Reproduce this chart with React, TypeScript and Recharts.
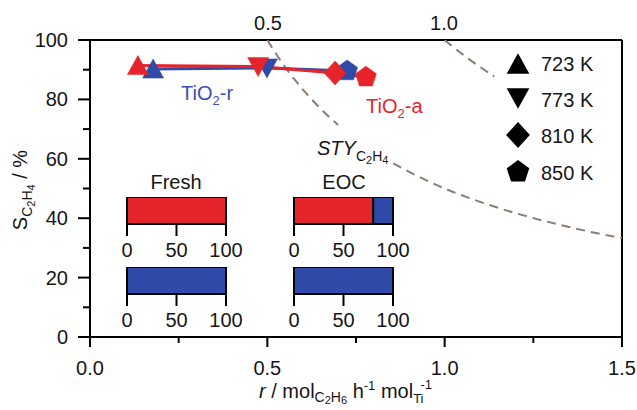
import React from "react";
import {
  ComposedChart,
  Line,
  Scatter,
  XAxis,
  YAxis,
  ReferenceLine,
  BarChart,
  Bar,
} from "recharts";

const FONT = "'Liberation Sans', Arial, Helvetica, sans-serif";
const INK = "#161616";
const RED = "#e5252b";
const BLUE = "#2f4aa8";
const BLUE_TEXT = "#3c4db5";
const DASH = "#8a7d77";

// Axis ticks
const xTicks = [0, 0.25, 0.5, 0.75, 1.0, 1.25, 1.5];
const yTicks = [0, 10, 20, 30, 40, 50, 60, 70, 80, 90, 100];

// Reaction temperatures (marker shape key) and legend text
const temperatures = [723, 773, 810, 850];
const temperatureLabels = ["723 K", "773 K", "810 K", "850 K"];

// TiO2-a: rate r vs. C2H4 selectivity
const anataseR = [0.135, 0.474, 0.691, 0.778];
const anataseS = [91.4, 91.1, 88.9, 87.5];
const anataseT = [723, 773, 810, 850];

// TiO2-r: rate r vs. C2H4 selectivity
const rutileR = [0.178, 0.499, 0.725];
const rutileS = [90.2, 90.6, 89.6];
const rutileT = [723, 773, 850];

// STY(C2H4) iso-lines, S = 100 * STY / r
const sty05R1 = [0.5, 0.52, 0.55, 0.58, 0.61, 0.64, 0.67, 0.7];
const sty05S1 = [100, 96.2, 90.9, 86.2, 82.0, 78.1, 74.6, 71.4];
const sty05R2 = [0.855, 0.9, 1.0, 1.1, 1.2, 1.3, 1.4, 1.5];
const sty05S2 = [58.5, 55.6, 50.0, 45.5, 41.7, 38.5, 35.7, 33.3];
const sty10R = [1.0, 1.03, 1.06, 1.1, 1.14];
const sty10S = [100, 97.1, 94.3, 90.9, 87.7];

// Phase composition (% anatase / % rutile), fresh and end of cycle
const phaseStates = ["Fresh", "EOC"];
const catAAnatase = [100, 80];
const catARutile = [0, 20];
const catRAnatase = [0, 0];
const catRRutile = [100, 100];

const toPts = (r: number[], s: number[], t?: number[]) =>
  r.map((v, i) => ({ r: v, s: s[i], t: t ? t[i] : 0 }));

const anatase = toPts(anataseR, anataseS, anataseT);
const rutile = toPts(rutileR, rutileS, rutileT);
const sty05a = toPts(sty05R1, sty05S1);
const sty05b = toPts(sty05R2, sty05S2);
const sty10 = toPts(sty10R, sty10S);

function markerPath(t: number, cx: number, cy: number, k = 1): string {
  if (t === 723) {
    return `M${cx},${cy - 10 * k} L${cx + 10.5 * k},${cy + 9 * k} L${cx - 10.5 * k},${cy + 9 * k} Z`;
  }
  if (t === 773) {
    return `M${cx - 10.5 * k},${cy - 9 * k} L${cx + 10.5 * k},${cy - 9 * k} L${cx},${cy + 10 * k} Z`;
  }
  if (t === 810) {
    return `M${cx},${cy - 12 * k} L${cx + 11 * k},${cy} L${cx},${cy + 12 * k} L${cx - 11 * k},${cy} Z`;
  }
  const pts: string[] = [];
  for (let i = 0; i < 5; i++) {
    const a = (-90 + i * 72) * (Math.PI / 180);
    pts.push(`${cx + 11 * k * Math.cos(a)},${cy + 11 * k * Math.sin(a)}`);
  }
  return `M${pts.join(" L")} Z`;
}

const makeShape = (color: string) => (props: any) => {
  const { cx, cy, payload } = props;
  if (cx == null || cy == null) return <g />;
  return <path d={markerPath(payload.t, cx, cy)} fill={color} stroke={color} strokeWidth={0.5} />;
};

const XTick = (p: any) => {
  const v = p.payload.value as number;
  const major = Math.abs(v * 2 - Math.round(v * 2)) < 1e-6;
  return (
    <g>
      <line x1={p.x} x2={p.x} y1={p.y} y2={p.y + (major ? 10 : 6)} stroke="#000" strokeWidth={2} />
      {major && (
        <text x={p.x} y={p.y + 38} textAnchor="middle" fontSize={20} fontFamily={FONT} fill={INK}>
          {v.toFixed(1)}
        </text>
      )}
    </g>
  );
};

const YTick = (p: any) => {
  const v = p.payload.value as number;
  const major = v % 20 === 0;
  return (
    <g>
      <line x1={p.x - (major ? 12 : 7)} x2={p.x} y1={p.y} y2={p.y} stroke="#000" strokeWidth={2} />
      {major && (
        <text x={p.x - 22} y={p.y + 7} textAnchor="end" fontSize={20} fontFamily={FONT} fill={INK}>
          {v}
        </text>
      )}
    </g>
  );
};

const PhaseBar = ({ left, top, anataseVal, rutileVal, name }: any) => {
  const data = [{ name, anatase: anataseVal, rutile: rutileVal }];
  return (
    <div style={{ position: "absolute", left, top }}>
      <BarChart
        width={139}
        height={67}
        data={data}
        layout="vertical"
        margin={{ top: 0, right: 20, bottom: 0, left: 20 }}
        barCategoryGap={0}
      >
        <XAxis
          type="number"
          domain={[0, 100]}
          ticks={[0, 50, 100]}
          interval={0}
          height={40}
          axisLine={false}
          tickLine={{ stroke: "#000", strokeWidth: 2 }}
          tickSize={12}
          tickMargin={7}
          tick={{ fontSize: 20, fill: INK, fontFamily: FONT }}
        />
        <YAxis type="category" dataKey="name" hide />
        <Bar dataKey="anatase" stackId="p" fill={RED} stroke="#000" strokeWidth={2} isAnimationActive={false} />
        <Bar dataKey="rutile" stackId="p" fill={BLUE} stroke="#000" strokeWidth={2} isAnimationActive={false} />
      </BarChart>
    </div>
  );
};

const legendY = [64, 98, 135, 172];
const legendBase = [71, 107, 143, 180];

export default function App() {
  return (
    <div
      style={{
        position: "absolute",
        left: 0,
        top: 0,
        width: 637,
        height: 410,
        background: "#fff",
        fontFamily: FONT,
      }}
    >
      <ComposedChart width={637} height={410} margin={{ top: 40, right: 15, bottom: 0, left: 0 }}>
        <XAxis
          type="number"
          dataKey="r"
          domain={[0, 1.5]}
          ticks={xTicks}
          interval={0}
          height={73}
          axisLine={{ stroke: "#000", strokeWidth: 2 }}
          tickLine={false}
          tickSize={0}
          tickMargin={0}
          tick={XTick}
          allowDataOverflow
        />
        <YAxis
          type="number"
          dataKey="s"
          domain={[0, 100]}
          ticks={yTicks}
          interval={0}
          width={90}
          axisLine={{ stroke: "#000", strokeWidth: 2 }}
          tickLine={false}
          tickSize={0}
          tickMargin={0}
          tick={YTick}
          allowDataOverflow
        />
        <ReferenceLine y={100} stroke="#000" strokeWidth={2} />
        <ReferenceLine x={1.5} stroke="#000" strokeWidth={2} />

        <Line data={sty05a} dataKey="s" type="monotone" stroke={DASH} strokeWidth={2} strokeDasharray="9 6" dot={false} isAnimationActive={false} />
        <Line data={sty05b} dataKey="s" type="monotone" stroke={DASH} strokeWidth={2} strokeDasharray="9 6" dot={false} isAnimationActive={false} />
        <Line data={sty10} dataKey="s" type="monotone" stroke={DASH} strokeWidth={2} strokeDasharray="9 6" dot={false} isAnimationActive={false} />

        <Line data={rutile} dataKey="s" type="linear" stroke={BLUE} strokeWidth={3} dot={false} isAnimationActive={false} />
        <Line data={anatase} dataKey="s" type="linear" stroke={RED} strokeWidth={3} dot={false} isAnimationActive={false} />
        <Scatter data={rutile} dataKey="s" shape={makeShape(BLUE)} isAnimationActive={false} />
        <Scatter data={anatase} dataKey="s" shape={makeShape(RED)} isAnimationActive={false} />
      </ComposedChart>

      <PhaseBar left={107} top={197} anataseVal={catAAnatase[0]} rutileVal={catARutile[0]} name={phaseStates[0]} />
      <PhaseBar left={107} top={267} anataseVal={catRAnatase[0]} rutileVal={catRRutile[0]} name={phaseStates[0]} />
      <PhaseBar left={274} top={197} anataseVal={catAAnatase[1]} rutileVal={catARutile[1]} name={phaseStates[1]} />
      <PhaseBar left={274} top={267} anataseVal={catRAnatase[1]} rutileVal={catRRutile[1]} name={phaseStates[1]} />

      <svg
        width={637}
        height={410}
        style={{ position: "absolute", left: 0, top: 0, pointerEvents: "none" }}
        fontFamily={FONT}
      >
        {/* iso-line values on the top edge */}
        <text x={268} y={30} textAnchor="middle" fontSize={20} fill={INK}>0.5</text>
        <text x={444} y={30} textAnchor="middle" fontSize={20} fill={INK}>1.0</text>

        {/* series names */}
        <text x={181} y={100} fontSize={20} fill={BLUE_TEXT}>
          TiO<tspan fontSize={13} dy={5}>2</tspan>
          <tspan dy={-5}>-r</tspan>
        </text>
        <text x={366} y={113} fontSize={20} fill={RED}>
          TiO<tspan fontSize={13} dy={5}>2</tspan>
          <tspan dy={-5}>-a</tspan>
        </text>

        {/* iso-line title */}
        <text x={317} y={155} fontSize={20} fill={INK}>
          <tspan fontStyle="italic">STY</tspan>
          <tspan fontSize={14} dy={6}>C</tspan>
          <tspan fontSize={11} dy={3}>2</tspan>
          <tspan fontSize={14} dy={-3}>H</tspan>
          <tspan fontSize={11} dy={3}>4</tspan>
        </text>

        {/* inset titles */}
        <text x={176} y={189} textAnchor="middle" fontSize={20} fill={INK}>{phaseStates[0]}</text>
        <text x={344} y={189} textAnchor="middle" fontSize={20} fill={INK}>{phaseStates[1]}</text>

        {/* temperature legend */}
        {temperatures.map((t, i) => (
          <g key={t}>
            <path d={markerPath(t, 518, legendY[i], 1.08)} fill="#000" />
            <text x={541} y={legendBase[i]} fontSize={20} fill={INK}>{temperatureLabels[i]}</text>
          </g>
        ))}

        {/* y-axis title */}
        <g transform="translate(27,190) rotate(-90)">
          <text x={0} y={0} textAnchor="middle" fontSize={20} fill={INK}>
            S<tspan fontSize={14} dy={5}>C</tspan>
            <tspan fontSize={11} dy={3}>2</tspan>
            <tspan fontSize={14} dy={-3}>H</tspan>
            <tspan fontSize={11} dy={3}>4</tspan>
            <tspan fontSize={20} dy={-8}> / %</tspan>
          </text>
        </g>

        {/* x-axis title */}
        <text x={259} y={398} fontSize={20} fill={INK}>
          <tspan fontStyle="italic">r</tspan> / mol
          <tspan fontSize={14} dy={4}>C</tspan>
          <tspan fontSize={11} dy={2}>2</tspan>
          <tspan fontSize={14} dy={-2}>H</tspan>
          <tspan fontSize={11} dy={2}>6</tspan>
          <tspan fontSize={20} dy={-6}> h</tspan>
          <tspan fontSize={13} dy={-8}>-1</tspan>
          <tspan fontSize={20} dy={8}> mol</tspan>
          <tspan fontSize={13} dy={5}>Ti</tspan>
          <tspan fontSize={13} dx={-3} dy={-14}>-1</tspan>
        </text>
      </svg>
    </div>
  );
}
